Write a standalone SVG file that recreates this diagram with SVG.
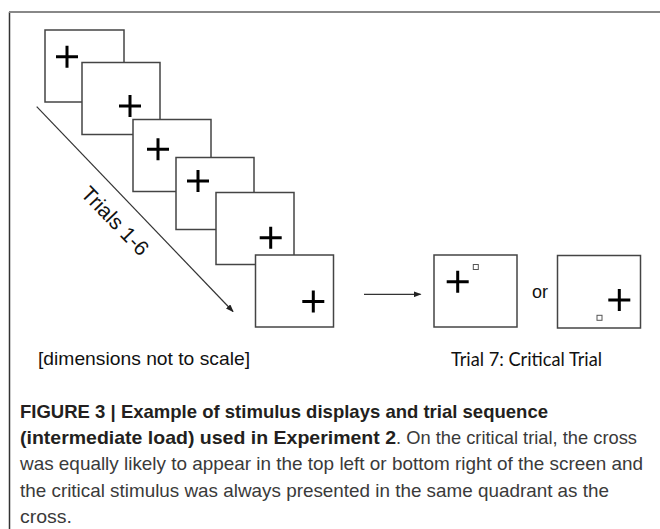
<svg xmlns="http://www.w3.org/2000/svg" width="660" height="529" viewBox="0 0 660 529">
<defs>
<style>
.box{fill:#fff;stroke:#444;stroke-width:1.5}
.cross{stroke:#000;stroke-width:3;fill:none}
.dot{fill:#fff;stroke:#555;stroke-width:1}
.conn{stroke:#333;stroke-width:1.2;fill:none}
.lab{font-family:"Liberation Sans",Arial,sans-serif;fill:#111}
.cap{font-family:"Liberation Sans",Arial,sans-serif;font-size:19px;fill:#3a3a3a}
.capb{font-family:"Liberation Sans",Arial,sans-serif;font-size:19px;font-weight:bold;fill:#231f20}
</style>
<marker id="ah" markerWidth="8" markerHeight="6" refX="7" refY="3" orient="auto" markerUnits="userSpaceOnUse">
<path d="M0,0 L8,3 L0,6 Z" fill="#222"/>
</marker>
</defs>
<rect x="0" y="0" width="660" height="529" fill="#fff"/>
<path d="M9.5,529 V12" stroke="#333" stroke-width="1.5" fill="none"/>
<path d="M9,12 H660" stroke="#888" stroke-width="2" fill="none"/>

<g id="trial1"><rect class="box" x="45" y="30" width="79" height="72"/><path class="cross" d="M56,56.7 H78 M67,45.7 V67.7"/></g>
<g id="trial2"><rect class="box" x="82" y="62.5" width="78" height="72"/><path class="cross" d="M119,106 H141 M130,95 V117"/></g>
<g id="trial3"><rect class="box" x="133" y="119.5" width="78" height="72"/><path class="cross" d="M147,149.3 H169 M158,138.3 V160.3"/></g>
<g id="trial4"><rect class="box" x="176" y="157.5" width="78" height="72"/><path class="cross" d="M187,181 H209 M198,170 V192"/></g>
<g id="trial5"><rect class="box" x="216" y="192.5" width="78" height="72"/><path class="cross" d="M259.7,237.7 H281.7 M270.7,226.7 V248.7"/></g>
<g id="trial6"><rect class="box" x="255.5" y="255" width="78" height="72"/><path class="cross" d="M302.3,301.5 H324.3 M313.3,290.5 V312.5"/></g>

<g id="critical1"><rect class="box" x="434" y="255" width="83" height="72"/><path class="cross" d="M446.7,281.7 H468.7 M457.7,270.7 V292.7"/><rect class="dot" x="473.3" y="264.5" width="5" height="5"/></g>
<g id="critical2"><rect class="box" x="557.5" y="255.5" width="83" height="72.5"/><path class="cross" d="M608.3,300 H630.3 M619.3,289 V311"/><rect class="dot" x="597" y="315.3" width="5" height="5"/></g>

<g id="connectors">
<path class="conn" d="M36.7,106.7 L233,311.5" marker-end="url(#ah)"/>
<path class="conn" d="M364,294.3 H420.5" marker-end="url(#ah)"/>
</g>

<g id="labels">
<text class="lab" font-size="21" text-anchor="middle" transform="translate(110,226) rotate(46)">Trials 1-6</text>
<text class="lab" font-size="18" x="532" y="298">or</text>
<text class="lab" font-size="19" x="38" y="365" textLength="212" lengthAdjust="spacingAndGlyphs">[dimensions not to scale]</text>
<text class="lab" font-size="19" x="451" y="366" textLength="151" lengthAdjust="spacingAndGlyphs" style="font-family:Lato,'Open Sans',sans-serif">Trial 7: Critical Trial</text>
</g>

<g id="caption">
<text class="capb" x="20" y="418" textLength="528" lengthAdjust="spacingAndGlyphs">FIGURE 3 | Example of stimulus displays and trial sequence</text>
<text class="capb" x="20" y="444" textLength="376" lengthAdjust="spacingAndGlyphs">(intermediate load) used in Experiment 2</text>
<text class="cap" x="396" y="444" textLength="241" lengthAdjust="spacingAndGlyphs">. On the critical trial, the cross</text>
<text class="cap" x="20" y="470" textLength="623" lengthAdjust="spacingAndGlyphs">was equally likely to appear in the top left or bottom right of the screen and</text>
<text class="cap" x="20" y="497" textLength="589" lengthAdjust="spacingAndGlyphs">the critical stimulus was always presented in the same quadrant as the</text>
<text class="cap" x="20" y="523" textLength="52" lengthAdjust="spacingAndGlyphs">cross.</text>
</g>
</svg>
